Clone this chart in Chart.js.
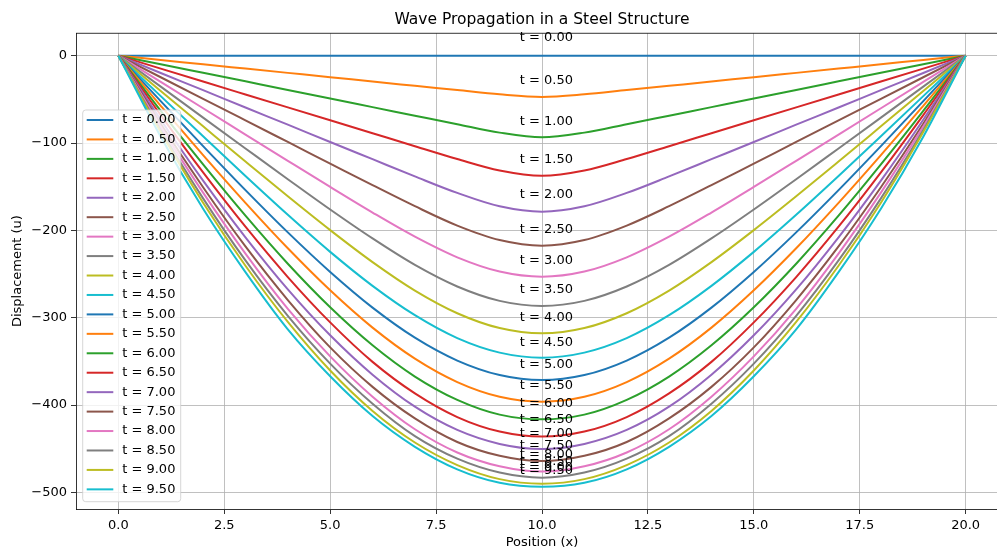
<!DOCTYPE html>
<html lang="en">
<head>
<meta charset="UTF-8">
<title>Wave Propagation in a Steel Structure</title>
<script src="https://cdn.jsdelivr.net/npm/chart.js"></script>
<style>
  html, body { margin: 0; padding: 0; overflow: hidden; background: #fff; }
  canvas { display: block; }
</style>
</head>
<body>
<canvas id="waveChart" width="1010" height="549"></canvas>
<script>
// positions along the beam
var positions = [0,1,2,3,4,5,6,7,8,9,10,11,12,13,14,15,16,17,18,19,20];
var timeLabels = ["0.00","0.50","1.00","1.50","2.00","2.50","3.00","3.50","4.00","4.50",
                  "5.00","5.50","6.00","6.50","7.00","7.50","8.00","8.50","9.00","9.50"];

// displacement, one list per time step
var disp000 = [0,0,0,0,0,0,0,0,0,0,0,0,0,0,0,0,0,0,0,0,0];
var disp050 = [0,-4.9,-9.9,-14.8,-19.7,-24.6,-29.6,-34.5,-39.4,-44.3,-47.3,-44.3,-39.4,-34.5,-29.6,-24.6,-19.7,-14.8,-9.9,-4.9,0];
var disp100 = [0,-9.8,-19.6,-29.4,-39.2,-49.1,-58.9,-68.7,-78.5,-88.1,-93.4,-88.1,-78.5,-68.7,-58.9,-49.1,-39.2,-29.4,-19.6,-9.8,0];
var disp150 = [0,-14.8,-29.6,-44.4,-59.2,-74.0,-88.8,-103.6,-118.3,-131.4,-137.4,-131.4,-118.3,-103.6,-88.8,-74.0,-59.2,-44.4,-29.6,-14.8,0];
var disp200 = [0,-19.8,-39.5,-59.3,-79.0,-98.8,-118.5,-138.2,-157.1,-172.4,-178.6,-172.4,-157.1,-138.2,-118.5,-98.8,-79.0,-59.3,-39.5,-19.8,0];
var disp250 = [0,-24.7,-49.4,-74.1,-98.8,-123.5,-148.2,-172.3,-194.5,-211.1,-217.5,-211.1,-194.5,-172.3,-148.2,-123.5,-98.8,-74.1,-49.4,-24.7,0];
var disp300 = [0,-30.1,-60.2,-90.3,-120.4,-150.3,-179.6,-207.2,-230.8,-247.1,-253.0,-247.1,-230.8,-207.2,-179.6,-150.3,-120.4,-90.3,-60.2,-30.1,0];
var disp350 = [0,-35.4,-70.9,-106.2,-141.4,-176.1,-209.2,-239.5,-264.2,-280.7,-286.5,-280.7,-264.2,-239.5,-209.2,-176.1,-141.4,-106.2,-70.9,-35.4,0];
var disp400 = [0,-40.5,-80.9,-121.2,-161.0,-199.7,-236.3,-268.9,-294.8,-311.8,-317.8,-311.8,-294.8,-268.9,-236.3,-199.7,-161.0,-121.2,-80.9,-40.5,0];
var disp450 = [0,-46.3,-92.3,-137.8,-182.2,-224.6,-263.5,-297.1,-323.3,-339.9,-345.7,-339.9,-323.3,-297.1,-263.5,-224.6,-182.2,-137.8,-92.3,-46.3,0];
var disp500 = [0,-52.1,-103.5,-153.9,-202.3,-247.6,-288.4,-322.8,-349.0,-365.6,-371.3,-365.6,-349.0,-322.8,-288.4,-247.6,-202.3,-153.9,-103.5,-52.1,0];
var disp550 = [0,-57.4,-113.9,-168.5,-220.5,-268.6,-311.3,-346.8,-373.6,-390.4,-396.0,-390.4,-373.6,-346.8,-311.3,-268.6,-220.5,-168.5,-113.9,-57.4,0];
var disp600 = [0,-63.2,-124.5,-183.2,-238.2,-288.0,-331.5,-367.3,-394.0,-410.9,-416.3,-410.9,-394.0,-367.3,-331.5,-288.0,-238.2,-183.2,-124.5,-63.2,0];
var disp650 = [0,-68.0,-133.6,-195.8,-253.4,-305.3,-350.5,-386.6,-413.7,-430.3,-436.0,-430.3,-413.7,-386.6,-350.5,-305.3,-253.4,-195.8,-133.6,-68.0,0];
var disp700 = [0,-73.3,-143.0,-207.9,-267.5,-320.1,-365.2,-401.8,-428.4,-444.4,-450.3,-444.4,-428.4,-401.8,-365.2,-320.1,-267.5,-207.9,-143.0,-73.3,0];
var disp750 = [0,-77.9,-150.6,-218.4,-279.7,-333.9,-379.1,-415.2,-442.2,-458.0,-464.0,-458.0,-442.2,-415.2,-379.1,-333.9,-279.7,-218.4,-150.6,-77.9,0];
var disp800 = [0,-81.2,-156.8,-226.6,-289.8,-344.2,-390.3,-427.6,-454.2,-470.0,-476.0,-470.0,-454.2,-427.6,-390.3,-344.2,-289.8,-226.6,-156.8,-81.2,0];
var disp850 = [0,-85.0,-163.3,-234.4,-297.8,-352.5,-398.4,-435.5,-461.3,-477.2,-483.0,-477.2,-461.3,-435.5,-398.4,-352.5,-297.8,-234.4,-163.3,-85.0,0];
var disp900 = [0,-87.5,-168.4,-240.5,-304.8,-360.4,-406.7,-442.8,-468.6,-484.7,-490.0,-484.7,-468.6,-442.8,-406.7,-360.4,-304.8,-240.5,-168.4,-87.5,0];
var disp950 = [0,-92.8,-175.2,-247.8,-313.3,-367.0,-412.5,-447.7,-473.5,-488.9,-493.4,-488.9,-473.5,-447.7,-412.5,-367.0,-313.3,-247.8,-175.2,-92.8,0];

// where the "t = ..." notes sit (data units)
var noteX = 9.5;
var noteY = [21.8,-27.8,-74.4,-118.3,-158.7,-198,-233.9,-267.1,-299.1,-327.8,
             -353.3,-376.6,-397.9,-415.9,-431.9,-445.3,-456.3,-463.5,-470.5,-474];

var xTicks = [0,2.5,5,7.5,10,12.5,15,17.5,20];
var yTicks = [-500,-400,-300,-200,-100,0];

var curves = [disp000,disp050,disp100,disp150,disp200,disp250,disp300,disp350,disp400,disp450,
              disp500,disp550,disp600,disp650,disp700,disp750,disp800,disp850,disp900,disp950];

var tab10 = ["#1f77b4","#ff7f0e","#2ca02c","#d62728","#9467bd","#8c564b","#e377c2","#7f7f7f","#bcbd22","#17becf"];
var FONT = "DejaVu Sans";

var datasets = curves.map(function(vals, i) {
  return {
    label: "t = " + timeLabels[i],
    data: positions.map(function(x, j) { return {x: x, y: vals[j]}; }),
    borderColor: tab10[i % 10],
    borderWidth: 2,
    pointRadius: 0,
    fill: false,
    cubicInterpolationMode: "monotone",
    order: curves.length - i
  };
});

// top spine, t-notes and the legend box, drawn over the lines like matplotlib does
var extras = {
  id: "extras",
  afterDatasetsDraw: function(chart) {
    var ctx = chart.ctx;
    var area = chart.chartArea;
    var xs = chart.scales.x, ys = chart.scales.y;
    ctx.save();

    ctx.strokeStyle = "#000";
    ctx.lineWidth = 0.8;
    ctx.beginPath();
    ctx.moveTo(area.left, area.top);
    ctx.lineTo(area.right, area.top);
    ctx.stroke();

    ctx.fillStyle = "#000";
    ctx.font = "13px '" + FONT + "'";
    ctx.textAlign = "left";
    ctx.textBaseline = "middle";
    for (var i = 0; i < noteY.length; i++) {
      ctx.fillText("t = " + timeLabels[i], xs.getPixelForValue(noteX) - 1, ys.getPixelForValue(noteY[i]) + 0.8);
    }

    var lw = 98, lh = 391.7;
    var lx = area.left + 6.7, ly = area.bottom - 7.3 - lh;
    ctx.beginPath();
    if (ctx.roundRect) ctx.roundRect(lx, ly, lw, lh, 3); else ctx.rect(lx, ly, lw, lh);
    ctx.fillStyle = "rgba(255,255,255,0.8)";
    ctx.fill();
    ctx.strokeStyle = "rgba(204,204,204,0.8)";
    ctx.lineWidth = 1;
    ctx.stroke();

    chart.data.datasets.forEach(function(ds, k) {
      var y = ly + 10 + k * 19.44;
      ctx.strokeStyle = ds.borderColor;
      ctx.lineWidth = 2;
      ctx.beginPath();
      ctx.moveTo(lx + 4, y);
      ctx.lineTo(lx + 30.6, y);
      ctx.stroke();
      ctx.fillStyle = "#000";
      ctx.fillText(ds.label, lx + 39.5, y);
    });
    ctx.restore();
  }
};

new Chart(document.getElementById("waveChart").getContext("2d"), {
  type: "line",
  data: { datasets: datasets },
  options: {
    responsive: false,
    animation: false,
    events: [],
    layout: { padding: { left: 0, right: 2, top: 0, bottom: 0 } },
    plugins: {
      legend: { display: false },
      tooltip: { enabled: false },
      title: {
        display: true,
        text: "Wave Propagation in a Steel Structure",
        fullSize: false,
        color: "#000",
        font: { family: FONT, size: 15.5, weight: "normal", lineHeight: 1.2 },
        padding: { top: 10.7, bottom: 4 }
      }
    },
    scales: {
      x: {
        type: "linear",
        min: -1,
        max: 21,
        afterBuildTicks: function(scale) {
          scale.ticks = xTicks.map(function(v) { return {value: v}; });
        },
        afterFit: function(scale) { scale.height = 40; },
        grid: { color: "#b0b0b0", lineWidth: 0.8, tickColor: "#000", tickWidth: 0.8, tickLength: 5 },
        border: { color: "#000", width: 0.8 },
        ticks: {
          autoSkip: false, maxRotation: 0, padding: 3.5, color: "#000",
          font: { family: FONT, size: 13 },
          callback: function(v) { return Number(v).toFixed(1); }
        },
        title: {
          display: true, text: "Position (x)", color: "#000",
          font: { family: FONT, size: 13, lineHeight: 1 },
          padding: { top: 0, bottom: 0 }
        }
      },
      y: {
        type: "linear",
        min: -518.9,
        max: 25.6,
        afterBuildTicks: function(scale) {
          scale.ticks = yTicks.map(function(v) { return {value: v}; });
        },
        afterFit: function(scale) { scale.width = 76; },
        grid: { color: "#b0b0b0", lineWidth: 0.8, tickColor: "#000", tickWidth: 0.8, tickLength: 5 },
        border: { color: "#000", width: 0.8 },
        ticks: {
          autoSkip: false, padding: 4, color: "#000",
          font: { family: FONT, size: 13 },
          callback: function(v) { return v < 0 ? "\u2212" + Math.abs(v) : String(v); }
        },
        title: {
          display: true, text: "Displacement (u)", color: "#000",
          font: { family: FONT, size: 13, lineHeight: 1 },
          padding: { top: 11, bottom: 0 }
        }
      }
    }
  },
  plugins: [extras]
});
</script>
</body>
</html>
